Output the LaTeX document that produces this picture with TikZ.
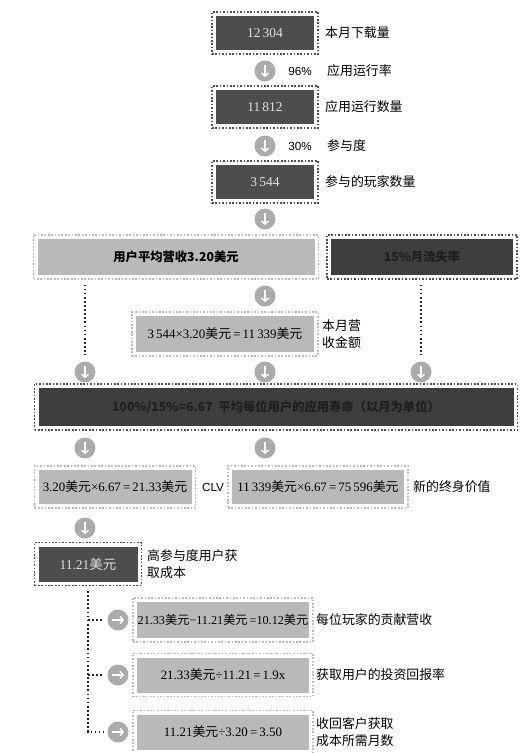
\documentclass[tikz,border=0pt]{standalone}
\usepackage{fontspec}
\setmainfont{Liberation Serif}
\newfontfamily\cjk{Noto Sans CJK SC}
\newfontfamily\arial{Liberation Sans}
\usetikzlibrary{arrows.meta, positioning}
\definecolor{balltone}{HTML}{ABABAB}
\definecolor{filldark}{HTML}{4D4D4D}
\definecolor{filldeep}{HTML}{3E3E3E}
\definecolor{filllight}{HTML}{B9B9B9}
\definecolor{framedark}{HTML}{505050}
\definecolor{framelight}{HTML}{BDBDBD}
\newcommand{\usd}{{\cjk 美元}}
\def\pxl{0.03cm}

\tikzset{
  frame/.style={line width=1.4pt, dash pattern=on 1.4pt off 1.5pt, inner sep=0pt,
    font=\fontsize{11}{13}\selectfont},
  fillbox/.style={path picture={\fill[#1] ([shift={(4,4)}]path picture bounding box.north west)
    rectangle ([shift={(-4,-4)}]path picture bounding box.south east);}},
  wh/.style 2 args={minimum width=#1*\pxl, minimum height=#2*\pxl},
  dbox/.style={frame, draw=framedark, fillbox=filldark, text=black!12,
    font=\fontsize{11.5}{13}\selectfont},
  deepbox/.style={frame, draw=framedark, fillbox=filldeep, text=black!88,
    font=\cjk\bfseries\fontsize{10.5}{12}\selectfont},
  lbox/.style={frame, draw=framelight, fillbox=filllight, text=black},
  ball/.style={circle, fill=balltone, minimum size=21*\pxl, inner sep=0pt},
  downball/.style={ball, path picture={\draw[white, line width=1.3pt, -{Straight Barb[length=2.5pt, width=6pt]}]
    ([shift={(0,-6)}]path picture bounding box.center) -- ([shift={(0,6)}]path picture bounding box.center);}},
  rightball/.style={ball, path picture={\draw[white, line width=1.3pt, -{Straight Barb[length=2.5pt, width=6pt]}]
    ([shift={(-6,0)}]path picture bounding box.center) -- ([shift={(6,0)}]path picture bounding box.center);}},
  note/.style={anchor=west, inner sep=0pt, align=left, font=\cjk\fontsize{11}{15}\selectfont},
  pct/.style={inner sep=0pt, font=\arial\fontsize{10}{12}\selectfont},
  link/.style={line width=1.5pt, dash pattern=on 1.5pt off 2pt, black!85}
}

\begin{document}
\begin{tikzpicture}[x=0.03cm, y=-0.03cm]
  \useasboundingbox (0,0) rectangle (527,753);

  % top chain
  \node[dbox, wh={106}{42}] (down) at (265,33) {12\,304};
  \node[note] (tdown) at (325,33) {本月下载量};
  \node[downball] (b1) at (265,71) {};
  \node[pct] (p1) at (300,71) {96\%};
  \node[note] (t1) at (327,71) {应用运行率};
  \node[dbox, wh={106}{42}] (run) at (265,107) {11\,812};
  \node[note] (trun) at (325,107) {应用运行数量};
  \node[downball] (b2) at (265,146) {};
  \node[pct] (p2) at (300,146) {30\%};
  \node[note] (t2) at (327,146) {参与度};
  \node[dbox, wh={106}{42}] (play) at (265,182) {3\,544};
  \node[note] (tplay) at (325,182) {参与的玩家数量};
  \node[downball] (b3) at (265,219) {};

  % revenue and churn
  \node[lbox, wh={285}{44}, font=\cjk\bfseries\fontsize{10.5}{12}\selectfont] (arpu) at (176,257) {用户平均营收3.20美元};
  \node[deepbox, wh={190}{44}] (churn) at (422,257) {15\%月流失率};
  \node[downball] (b4) at (265,296) {};
  \node[lbox, wh={186}{44}] (rev) at (225,334) {3\,544×3.20\usd\,=\,11\,339\usd};
  \node[note] (trev) at (322,334) {本月营\\收金额};
  \node[downball] (b5) at (85,372) {};
  \node[downball] (b6) at (265,372) {};
  \node[downball] (b7) at (421,372) {};
  \draw[link, shorten <=4pt, shorten >=5pt] (arpu.south -| b5) -- (b5.north);
  \draw[link, shorten <=4pt, shorten >=5pt] (churn.south -| b7) -- (b7.north);

  % lifetime
  \node[deepbox, wh={483}{46}] (life) at (276,407) {100\%/15\%=6.67\ \ 平均每位用户的应用寿命（以月为单位）};
  \node[downball] (b8) at (85,448) {};
  \node[downball] (b9) at (265,448) {};
  \node[lbox, wh={161}{42}] (clv) at (115,487) {3.20\usd×6.67\,=\,21.33\usd};
  \node[pct] (tclv) at (213,487) {CLV};
  \node[lbox, wh={180}{42}] (ltv) at (318,487) {11\,339\usd×6.67\,=\,75\,596\usd};
  \node[note] (tltv) at (413,487) {新的终身价值};
  \node[downball] (b10) at (85,528) {};

  % acquisition cost
  \node[dbox, wh={107}{43}] (cac) at (88,564) {11.21\usd};
  \node[note] (tcac) at (147,564) {高参与度用户获\\取成本};
  \node[rightball] (r1) at (118,620) {};
  \node[rightball] (r2) at (118,675) {};
  \node[rightball] (r3) at (118,732) {};
  \node[lbox, wh={180}{44}, font=\fontsize{10.4}{12}\selectfont] (c1) at (223,620) {21.33\usd−11.21\usd\,=10.12\usd};
  \node[note] (tc1) at (316,620) {每位玩家的贡献营收};
  \node[lbox, wh={180}{43}] (c2) at (223,675) {21.33\usd÷11.21\,=\,1.9x};
  \node[note] (tc2) at (316,675) {获取用户的投资回报率};
  \node[lbox, wh={180}{43}] (c3) at (223,732) {11.21\usd÷3.20\,=\,3.50};
  \node[note] (tc3) at (316,732) {收回客户获取\\成本所需月数};
  \draw[link, shorten <=4pt, shorten >=3pt] (cac.south) |- (r3.west);
  \draw[link, shorten >=3pt] (cac.south |- r1) -- (r1.west);
  \draw[link, shorten >=3pt] (cac.south |- r2) -- (r2.west);
\end{tikzpicture}
\end{document}
